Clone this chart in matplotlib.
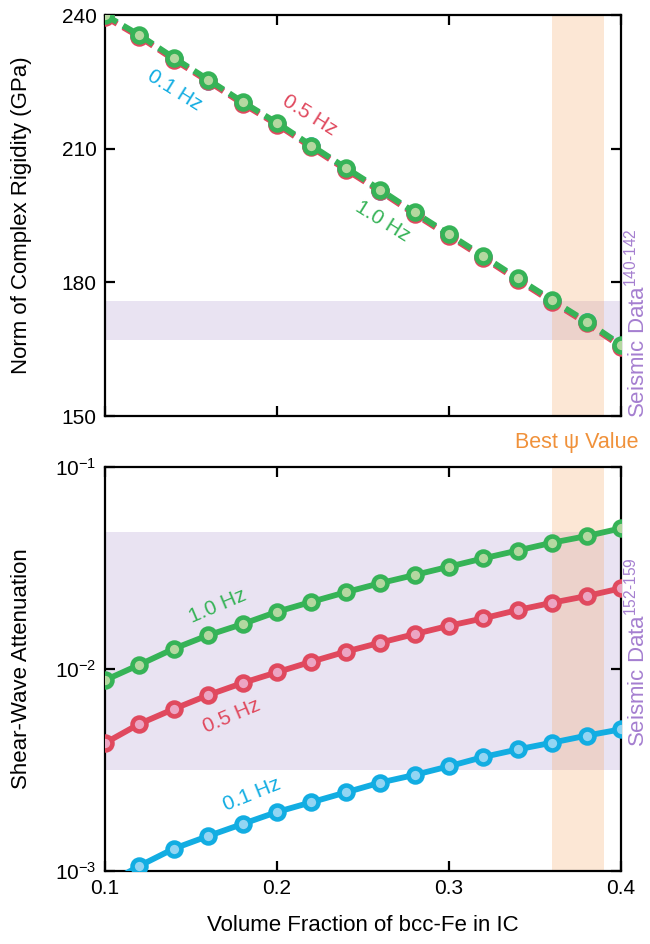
import numpy as np
import matplotlib
matplotlib.use('Agg')
import matplotlib.pyplot as plt
from matplotlib.ticker import NullLocator

plt.rcParams['font.family'] = ['Liberation Sans', 'DejaVu Sans']
plt.rcParams['mathtext.fontset'] = 'custom'
plt.rcParams['mathtext.rm'] = 'Liberation Sans'

# volume fraction of bcc-Fe
frac = [0.10, 0.12, 0.14, 0.16, 0.18, 0.20, 0.22, 0.24,
        0.26, 0.28, 0.30, 0.32, 0.34, 0.36, 0.38, 0.40]

# norm of complex rigidity (GPa)
rig_10 = [240.0, 235.5, 230.4, 225.5, 220.5, 215.8, 210.7, 205.7,
          200.8, 195.7, 190.8, 185.9, 180.9, 176.0, 171.2, 166.0]
rig_05 = [239.6, 235.1, 230.0, 225.1, 220.1, 215.4, 210.3, 205.3,
          200.4, 195.3, 190.4, 185.5, 180.5, 175.6, 170.8, 165.6]
rig_01 = [239.8, 235.3, 230.2, 225.3, 220.3, 215.6, 210.5, 205.5,
          200.6, 195.5, 190.6, 185.7, 180.7, 175.8, 171.0, 165.8]

# shear-wave attenuation
att_10 = [0.0088, 0.0105, 0.0126, 0.0147, 0.0167, 0.0192, 0.0215, 0.0240,
          0.0266, 0.0292, 0.0321, 0.0353, 0.0386, 0.0422, 0.0455, 0.0497]
att_05 = [0.0043, 0.00535, 0.00634, 0.00743, 0.00853, 0.00964, 0.01087, 0.01219,
          0.0135, 0.01489, 0.01637, 0.01782, 0.0196, 0.02129, 0.02297, 0.0251]
att_01 = [0.00085, 0.00106, 0.00129, 0.00149, 0.00171, 0.00196, 0.00219, 0.00245,
          0.00274, 0.00299, 0.0033, 0.00367, 0.004, 0.00432, 0.00468, 0.00503]

best_psi = (0.36, 0.39)
seis_rig = (167.0, 175.8)
seis_att = (0.00316, 0.0475)

green, green_f = '#36b357', '#b4d8a0'
red, red_f = '#e0495e', '#eca5c3'
blue, blue_f = '#12ade2', '#92d5f3'
purple = '#e9e3f2'
orange = '#f5a05a'

fig = plt.figure(figsize=(6.5, 9.44), dpi=100)
ax1 = fig.add_axes([0.1615, 0.5593, 0.7939, 0.4248])
ax2 = fig.add_axes([0.1615, 0.0773, 0.7939, 0.428])

for ax in (ax1, ax2):
    ax.axvspan(*best_psi, color=orange, alpha=0.25, lw=0, zorder=1)
    ax.tick_params(direction='in', length=7.5, width=1.6, top=True, right=True,
                   labelsize=15, pad=6)
    for s in ax.spines.values():
        s.set_linewidth(1.6)
    ax.set_xlim(0.1, 0.4)
    ax.set_xticks([0.1, 0.2, 0.3, 0.4])

ax1.axhspan(*seis_rig, color=purple, lw=0, zorder=0)
ax2.axhspan(*seis_att, color=purple, lw=0, zorder=0)

mk = dict(marker='o', ms=10, mew=3.3)
dash = (0, (2.4, 1.2))
ax1.plot(frac, rig_01, color=blue, ls=dash, lw=4.2, mfc=blue_f, mec=blue, zorder=3, **mk)
ax1.plot(frac, rig_05, color=red, ls=dash, lw=4.2, mfc=red_f, mec=red, zorder=4, **mk)
ax1.plot(frac, rig_10, color=green, ls=dash, lw=4.2, mfc=green_f, mec=green, zorder=5, **mk)
ax1.set_ylim(150, 240)
ax1.set_yticks([150, 180, 210, 240])
ax1.set_xticklabels([])
ax1.set_ylabel('Norm of Complex Rigidity (GPa)', fontsize=16)
ax1.yaxis.set_label_coords(-0.142, 0.5)

ax2.plot(frac, att_10, color=green, lw=4.2, mfc=green_f, mec=green, zorder=5, **mk)
ax2.plot(frac, att_05, color=red, lw=4.2, mfc=red_f, mec=red, zorder=5, **mk)
ax2.plot(frac, att_01, color=blue, lw=4.2, mfc=blue_f, mec=blue, zorder=5, **mk)
ax2.set_yscale('log')
ax2.set_ylim(1e-3, 1e-1)
ax2.yaxis.set_minor_locator(NullLocator())
ax2.set_xticklabels(['0.1', '0.2', '0.3', '0.4'])
ax2.set_ylabel('Shear-Wave Attenuation', fontsize=16)
ax2.yaxis.set_label_coords(-0.142, 0.5)
ax2.set_xlabel('Volume Fraction of bcc-Fe in IC', fontsize=16)
ax2.xaxis.set_label_coords(0.5, -0.108)

# frequency labels
fs = 15
ax1.text(0.1407, 223.0, '0.1 Hz', color=blue, fontsize=fs, rotation=-32, ha='center', va='center')
ax1.text(0.2192, 217.4, '0.5 Hz', color=red, fontsize=fs, rotation=-32, ha='center', va='center')
ax1.text(0.2612, 193.8, '1.0 Hz', color=green, fontsize=fs, rotation=-32, ha='center', va='center')
ax2.text(0.1657, 0.0205, '1.0 Hz', color=green, fontsize=fs, rotation=23, ha='center', va='center')
ax2.text(0.1738, 0.00585, '0.5 Hz', color=red, fontsize=fs, rotation=23, ha='center', va='center')
ax2.text(0.1855, 0.00238, '0.1 Hz', color=blue, fontsize=fs, rotation=22, ha='center', va='center')

fig.text(0.888, 0.531, 'Best ψ Value', color='#f0913a', fontsize=15.5, ha='center', va='center')
fig.text(0.999, 0.658, 'Seismic Data$^{140\u2010142}$', color='#a57fd0', fontsize=16,
         rotation=90, ha='right', va='center')
fig.text(0.999, 0.309, 'Seismic Data$^{152\u2010159}$', color='#a57fd0', fontsize=16,
         rotation=90, ha='right', va='center')

fig.savefig('out.png', dpi=100)
